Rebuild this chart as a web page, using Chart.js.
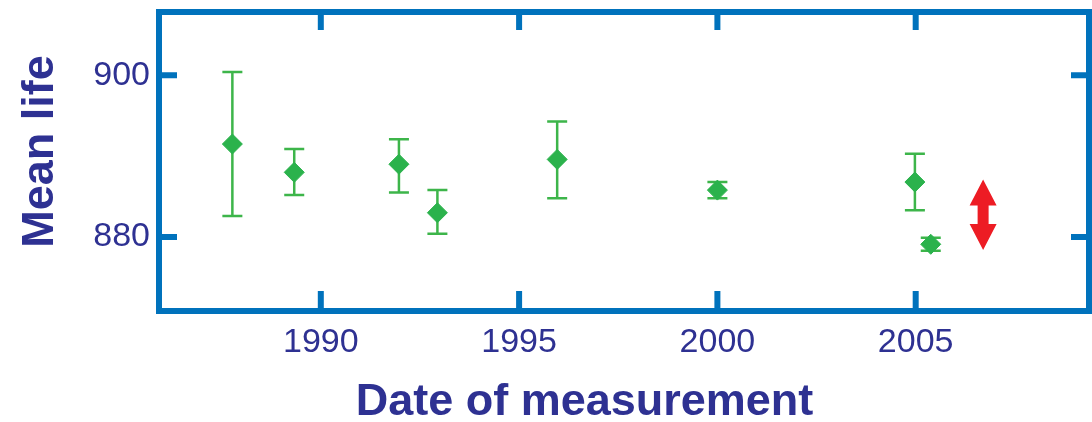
<!DOCTYPE html>
<html>
<head>
<meta charset="utf-8">
<script src="https://cdn.jsdelivr.net/npm/chart.js@4.4.1/dist/chart.umd.min.js"></script>
<style>
  html, body { margin: 0; padding: 0; background: #ffffff; }
  #marco { width: 1092px; height: 422px; }
</style>
</head>
<body>
<div id="marco"><canvas id="grafica" width="1092" height="422"></canvas></div>
<script>
// datos
var anios = [1987.77, 1989.33, 1991.97, 1992.94, 1995.96, 2000.0, 2004.98, 2005.38];
var vidaMedia = [891.5, 888.0, 889.0, 883.0, 889.6, 885.8, 886.8, 879.1];
var errorArriba = [8.9, 2.9, 3.1, 2.8, 4.7, 1.0, 3.5, 0.8];
var errorAbajo = [8.9, 2.8, 3.5, 2.6, 4.8, 1.0, 3.5, 0.8];

// flecha roja (rango de discrepancia)
var flechaAnio = [2006.7];
var flechaRango = [878.4, 887.1];

var marcasX = [1990, 1995, 2000, 2005];
var marcasY = [880, 900];
var rangoX = [1985.92, 2009.37];
var rangoY = [870.85, 907.83];

var tituloX = "Date of measurement";
var tituloY = "Mean life";

var azulMarco = "#0072bc";
var azulTexto = "#2e3192";
var verde = "#2bb24c";
var verdeBarra = "#3db54a";
var rojo = "#ed1c24";

var decoracion = {
  id: "decoracion",
  beforeDatasetsDraw: function(chart) {
    var ctx = chart.ctx;
    var x = chart.scales.x, y = chart.scales.y;
    ctx.save();
    ctx.strokeStyle = verdeBarra;
    ctx.lineWidth = 2.5;
    for (var i = 0; i < anios.length; i++) {
      var px = x.getPixelForValue(anios[i]);
      var arriba = y.getPixelForValue(vidaMedia[i] + errorArriba[i]);
      var abajo = y.getPixelForValue(vidaMedia[i] - errorAbajo[i]);
      ctx.beginPath();
      ctx.moveTo(px, arriba); ctx.lineTo(px, abajo);
      ctx.moveTo(px - 10, arriba); ctx.lineTo(px + 10, arriba);
      ctx.moveTo(px - 10, abajo); ctx.lineTo(px + 10, abajo);
      ctx.stroke();
    }
    ctx.restore();
  },
  afterDraw: function(chart) {
    var ctx = chart.ctx;
    var a = chart.chartArea;
    var x = chart.scales.x, y = chart.scales.y;
    ctx.save();

    // marco
    ctx.strokeStyle = azulMarco;
    ctx.lineWidth = 6;
    ctx.strokeRect(a.left, a.top, a.right - a.left, a.bottom - a.top);

    // marcas hacia adentro
    ctx.beginPath();
    marcasX.forEach(function(v) {
      var px = x.getPixelForValue(v);
      ctx.moveTo(px, a.top); ctx.lineTo(px, a.top + 18);
      ctx.moveTo(px, a.bottom); ctx.lineTo(px, a.bottom - 20);
    });
    marcasY.forEach(function(v) {
      var py = y.getPixelForValue(v);
      ctx.moveTo(a.left, py); ctx.lineTo(a.left + 18, py);
      ctx.moveTo(a.right, py); ctx.lineTo(a.right - 18, py);
    });
    ctx.stroke();

    // flecha roja doble
    var fx = x.getPixelForValue(flechaAnio[0]);
    var fTop = y.getPixelForValue(flechaRango[1]);
    var fBot = y.getPixelForValue(flechaRango[0]);
    var cabeza = 26, ancho = 13.5, tallo = 5.5;
    ctx.fillStyle = rojo;
    ctx.beginPath();
    ctx.moveTo(fx, fTop);
    ctx.lineTo(fx + ancho, fTop + cabeza);
    ctx.lineTo(fx + tallo, fTop + cabeza);
    ctx.lineTo(fx + tallo, fBot - cabeza);
    ctx.lineTo(fx + ancho, fBot - cabeza);
    ctx.lineTo(fx, fBot);
    ctx.lineTo(fx - ancho, fBot - cabeza);
    ctx.lineTo(fx - tallo, fBot - cabeza);
    ctx.lineTo(fx - tallo, fTop + cabeza);
    ctx.lineTo(fx - ancho, fTop + cabeza);
    ctx.closePath();
    ctx.fill();

    // titulos de ejes
    ctx.fillStyle = azulTexto;
    ctx.font = 'bold 45px "Liberation Sans", Arial, sans-serif';
    ctx.textAlign = "center";
    ctx.textBaseline = "alphabetic";
    ctx.fillText(tituloX, a.left + 425.5, 415);
    ctx.translate(53, a.top + 139.5);
    ctx.rotate(-Math.PI / 2);
    ctx.fillText(tituloY, 0, 0);
    ctx.restore();
  }
};

var ctx = document.getElementById("grafica").getContext("2d");
var grafica = new Chart(ctx, {
  type: "scatter",
  data: {
    datasets: [{
      data: anios.map(function(a, i) { return { x: a, y: vidaMedia[i] }; }),
      pointStyle: "rectRot",
      pointRadius: 10,
      pointBackgroundColor: verde,
      pointBorderColor: verde,
      pointBorderWidth: 1
    }]
  },
  options: {
    responsive: false,
    animation: false,
    devicePixelRatio: 1,
    layout: { autoPadding: false, padding: { top: 12, right: 3, left: 0, bottom: 0 } },
    plugins: { legend: { display: false }, tooltip: { enabled: false } },
    scales: {
      x: {
        type: "linear",
        position: "bottom",
        min: rangoX[0],
        max: rangoX[1],
        grid: { display: false, drawTicks: false },
        border: { display: false },
        afterBuildTicks: function(eje) {
          eje.ticks = marcasX.map(function(v) { return { value: v }; });
        },
        afterFit: function(eje) {
          eje.height = 111;
          eje.paddingLeft = 0; eje.paddingRight = 0;
          eje.paddingTop = 0; eje.paddingBottom = 0;
        },
        ticks: {
          padding: 11,
          maxRotation: 0,
          color: azulTexto,
          font: { family: '"Liberation Sans", Arial, sans-serif', size: 34 },
          callback: function(v) { return String(v); }
        }
      },
      y: {
        type: "linear",
        position: "left",
        min: rangoY[0],
        max: rangoY[1],
        grid: { display: false, drawTicks: false },
        border: { display: false },
        afterBuildTicks: function(eje) {
          eje.ticks = marcasY.map(function(v) { return { value: v }; });
        },
        afterFit: function(eje) {
          eje.width = 159;
          eje.paddingLeft = 0; eje.paddingRight = 0;
          eje.paddingTop = 0; eje.paddingBottom = 0;
        },
        ticks: {
          padding: 9,
          color: azulTexto,
          font: { family: '"Liberation Sans", Arial, sans-serif', size: 34 },
          callback: function(v) { return String(v); }
        }
      }
    }
  },
  plugins: [decoracion]
});
</script>
</body>
</html>
